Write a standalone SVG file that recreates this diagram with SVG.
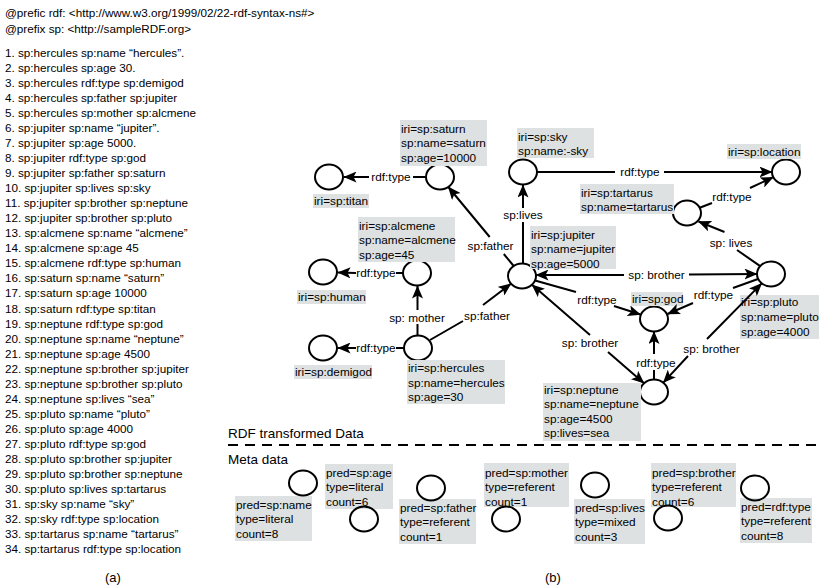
<svg xmlns="http://www.w3.org/2000/svg" width="831" height="587" viewBox="0 0 831 587">
<style>
text { font-family: "Liberation Sans", Arial, sans-serif; fill: #000; }
.src { font-size: 11.7px; }
.lbl { font-size: 11.8px; }
.el { font-size: 11.8px; text-anchor: middle; }
.box { fill: #dde1e1; }
.nd { fill: none; stroke: #000; stroke-width: 2; }
.edge { fill: none; stroke: #000; stroke-width: 2; marker-end: url(#ah); }
.both { marker-start: url(#ah); }
.sec { font-size: 13.5px; }
</style>
<defs>
<marker id="ah" viewBox="0 0 13 11" refX="12.5" refY="5.5" markerWidth="13" markerHeight="11" markerUnits="userSpaceOnUse" orient="auto-start-reverse">
<path d="M0,0 L13,5.5 L0,11 L3,5.5 z" fill="#000"/>
</marker>
</defs>
<rect width="831" height="587" fill="#fff"/>

<g id="source-text" xml:space="preserve">
<text class="src" x="5" y="17">@prefic  rdf:  &lt;http://www.w3.org/1999/02/22-rdf-syntax-ns#&gt;</text>
<text class="src" x="5" y="33">@prefix  sp:  &lt;http://sampleRDF.org&gt;</text>
<text class="src" x="5" y="57">1. sp:hercules sp:name “hercules”.<tspan x="5" dy="15.03">2. sp:hercules sp:age 30.</tspan><tspan x="5" dy="15.03">3. sp:hercules rdf:type sp:demigod</tspan><tspan x="5" dy="15.03">4. sp:hercules sp:father sp:jupiter</tspan><tspan x="5" dy="15.03">5. sp:hercules sp:mother   sp:alcmene</tspan><tspan x="5" dy="15.03">6. sp:jupiter sp:name “jupiter”.</tspan><tspan x="5" dy="15.03">7. sp:jupiter sp:age 5000.</tspan><tspan x="5" dy="15.03">8. sp:jupiter rdf:type sp:god</tspan><tspan x="5" dy="15.03">9. sp:jupiter sp:father sp:saturn</tspan><tspan x="5" dy="15.03">10. sp:jupiter sp:lives sp:sky</tspan><tspan x="5" dy="15.03">11. sp:jupiter sp:brother sp:neptune</tspan><tspan x="5" dy="15.03">12. sp:jupiter sp:brother sp:pluto</tspan><tspan x="5" dy="15.03">13. sp:alcmene sp:name “alcmene”</tspan><tspan x="5" dy="15.03">14. sp:alcmene sp:age 45</tspan><tspan x="5" dy="15.03">15. sp:alcmene rdf:type sp:human</tspan><tspan x="5" dy="15.03">16. sp:saturn sp:name “saturn”</tspan><tspan x="5" dy="15.03">17. sp:saturn sp:age 10000</tspan><tspan x="5" dy="15.03">18. sp:saturn rdf:type sp:titan</tspan><tspan x="5" dy="15.03">19. sp:neptune rdf:type sp:god</tspan><tspan x="5" dy="15.03">20. sp:neptune sp:name “neptune”</tspan><tspan x="5" dy="15.03">21. sp:neptune sp:age 4500</tspan><tspan x="5" dy="15.03">22. sp:neptune sp:brother sp:jupiter</tspan><tspan x="5" dy="15.03">23. sp:neptune sp:brother sp:pluto</tspan><tspan x="5" dy="15.03">24. sp:neptune sp:lives “sea”</tspan><tspan x="5" dy="15.03">25. sp:pluto sp:name “pluto”</tspan><tspan x="5" dy="15.03">26. sp:pluto sp:age 4000</tspan><tspan x="5" dy="15.03">27. sp:pluto rdf:type sp:god</tspan><tspan x="5" dy="15.03">28. sp:pluto sp:brother sp:jupiter</tspan><tspan x="5" dy="15.03">29. sp:pluto sp:brother sp:neptune</tspan><tspan x="5" dy="15.03">30. sp:pluto sp:lives sp:tartarus</tspan><tspan x="5" dy="15.03">31. sp:sky sp:name “sky”</tspan><tspan x="5" dy="15.03">32. sp:sky rdf:type sp:location</tspan><tspan x="5" dy="15.03">33. sp:tartarus sp:name “tartarus”</tspan><tspan x="5" dy="15.03">34. sp:tartarus rdf:type sp:location</tspan></text>
<text class="src" x="105" y="582" style="font-size:13px">(a)</text>
</g>

<g id="nodes">
<g id="n-titan"><ellipse class="nd" cx="329" cy="177" rx="14" ry="12.5"/><rect class="box" x="313" y="194" width="56" height="14"/><text class="lbl" x="314" y="205">iri=sp:titan</text></g>
<g id="n-saturn"><ellipse class="nd" cx="440" cy="177" rx="14" ry="12.5"/><rect class="box" x="400" y="120" width="87" height="46"/><text class="lbl" x="401" y="133">iri=sp:saturn<tspan x="401" dy="14.3">sp:name=saturn</tspan><tspan x="401" dy="14.3">sp:age=10000</tspan></text></g>
<g id="n-sky"><ellipse class="nd" cx="523" cy="172" rx="14" ry="12.5"/><rect class="box" x="517" y="128" width="77" height="30"/><text class="lbl" x="518" y="141">iri=sp:sky<tspan x="518" dy="14.3">sp:name:-sky</tspan></text></g>
<g id="n-location"><ellipse class="nd" cx="786" cy="172" rx="14" ry="12.5"/><rect class="box" x="727" y="144" width="74" height="15"/><text class="lbl" x="728" y="156">iri=sp:location</text></g>
<g id="n-tartarus"><ellipse class="nd" cx="687" cy="213" rx="14" ry="12.5"/><rect class="box" x="580" y="184" width="94" height="30"/><text class="lbl" x="581" y="197">iri=sp:tartarus<tspan x="581" dy="14.3">sp:name=tartarus</tspan></text></g>
<g id="n-human"><ellipse class="nd" cx="323" cy="272" rx="14" ry="12.5"/><rect class="box" x="297" y="290" width="69" height="14"/><text class="lbl" x="298" y="301">iri=sp:human</text></g>
<g id="n-alcmene"><ellipse class="nd" cx="417" cy="273" rx="14" ry="12.5"/><rect class="box" x="358" y="217" width="97" height="45"/><text class="lbl" x="359" y="230">iri=sp:alcmene<tspan x="359" dy="14.3">sp:name=alcmene</tspan><tspan x="359" dy="14.3">sp:age=45</tspan></text></g>
<g id="n-jupiter"><ellipse class="nd" cx="522" cy="276" rx="14" ry="12.5"/><rect class="box" x="530" y="226" width="86" height="43"/><text class="lbl" x="531" y="239">iri=sp:jupiter<tspan x="531" dy="14.3">sp:name=jupiter</tspan><tspan x="531" dy="14.3">sp:age=5000</tspan></text></g>
<g id="n-pluto"><ellipse class="nd" cx="771" cy="274" rx="14" ry="12.5"/><rect class="box" x="740" y="295" width="79" height="44"/><text class="lbl" x="741" y="306">iri=sp:pluto<tspan x="741" dy="14.8">sp:name=pluto</tspan><tspan x="741" dy="14.8">sp:age=4000</tspan></text></g>
<g id="n-god"><ellipse class="nd" cx="654" cy="319" rx="14" ry="12.5"/><rect class="box" x="631" y="292" width="52" height="14"/><text class="lbl" x="632" y="303">iri=sp:god</text></g>
<g id="n-demigod"><ellipse class="nd" cx="323" cy="348" rx="14" ry="12.5"/><rect class="box" x="294" y="365" width="78" height="14"/><text class="lbl" x="295" y="376">iri=sp:demigod</text></g>
<g id="n-hercules"><ellipse class="nd" cx="418" cy="348" rx="14" ry="12.5"/><rect class="box" x="407" y="360" width="98" height="44"/><text class="lbl" x="408" y="372">iri=sp:hercules<tspan x="408" dy="14.5">sp:name=hercules</tspan><tspan x="408" dy="14.5">sp:age=30</tspan></text></g>
<g id="n-neptune"><ellipse class="nd" cx="654" cy="392" rx="14" ry="12.5"/><rect class="box" x="543" y="383" width="98" height="58"/><text class="lbl" x="544" y="394">iri=sp:neptune<tspan x="544" dy="14.4">sp:name=neptune</tspan><tspan x="544" dy="14.4">sp:age=4500</tspan><tspan x="544" dy="14.4">sp:lives=sea</tspan></text></g>
</g>

<g id="connectors">
<path class="edge" d="M425,177 L413,177 M369,177 L344,177"/>
<text class="el" x="391" y="181">rdf:type</text>
<path class="edge" d="M513.7,266 L503.8,254 M489.7,237 L448.3,187"/>
<text class="el" x="490.5" y="250">sp:father</text>
<path class="edge" d="M523,263.5 L523,222 M523,208 L523,185"/>
<text class="el" x="523" y="219">sp:lives</text>
<path class="edge" d="M537,172 L615,172 M664,172 L772,172"/>
<text class="el" x="640" y="176">rdf:type</text>
<path class="edge" d="M699.7,207.8 L712,203 M750,188 L773.3,177.2"/>
<text class="el" x="732" y="201">rdf:type</text>
<path class="edge" d="M760.2,266.1 L737,250 M724.5,232 L698.5,221.5"/>
<text class="el" x="731" y="247">sp: lives</text>
<path class="edge both" d="M536,275 L624,275 M689,274.5 L757,274"/>
<text class="el" x="656.5" y="279">sp: brother</text>
<path class="edge" d="M535,280.5 L576,292 M614,306 L640.5,314.5"/>
<text class="el" x="597" y="304">rdf:type</text>
<path class="edge" d="M758,279 L733,288 M693,303 L667.5,314"/>
<text class="el" x="713.5" y="299">rdf:type</text>
<path class="edge both" d="M532,284.8 L590,335 M608,352 L644,383.2"/>
<text class="el" x="590" y="347">sp: brother</text>
<path class="edge" d="M654,379.5 L654,370 M654,354 L654,331.5"/>
<text class="el" x="656" y="366.5">rdf:type</text>
<path class="edge both" d="M761.7,283.4 L707,339 M688,356 L663.3,382.6"/>
<text class="el" x="711.5" y="353">sp: brother</text>
<path class="edge" d="M403,273 L396,273 M356,273 L338,272.5"/>
<text class="el" x="376" y="277">rdf:type</text>
<path class="edge" d="M417.5,335.5 L417.5,324 M417.5,310 L417.5,286"/>
<text class="el" x="417" y="322">sp: mother</text>
<path class="edge" d="M430,340 L463,321 M483,305 L510.9,283.7"/>
<text class="el" x="487" y="320">sp:father</text>
<path class="edge" d="M404,348 L396,348 M356,348 L338,348"/>
<text class="el" x="376" y="352">rdf:type</text>
</g>

<g id="separator">
<text class="sec" x="228" y="438">RDF transformed Data</text>
<line x1="228" y1="445" x2="822" y2="445" stroke="#000" stroke-width="2" stroke-dasharray="10 7"/>
<text class="sec" x="228" y="464">Meta data</text>
</g>

<g id="meta">
<g id="m-name"><rect class="box" x="235" y="496" width="77" height="45"/><ellipse class="nd" cx="303" cy="483" rx="14" ry="12.5"/><text class="lbl" x="236" y="509">pred=sp:name<tspan x="236" dy="14.3">type=literal</tspan><tspan x="236" dy="14.3">count=8</tspan></text></g>
<g id="m-age"><rect class="box" x="325" y="464" width="68" height="45"/><text class="lbl" x="326" y="477">pred=sp:age<tspan x="326" dy="14.3">type=literal</tspan><tspan x="326" dy="14.3">count=6</tspan></text><ellipse class="nd" cx="364" cy="519" rx="14" ry="12.5"/></g>
<g id="m-father"><rect class="box" x="399" y="499" width="77" height="45"/><ellipse class="nd" cx="431" cy="488" rx="14" ry="12.5"/><text class="lbl" x="400" y="512">pred=sp:father<tspan x="400" dy="14.3">type=referent</tspan><tspan x="400" dy="14.3">count=1</tspan></text></g>
<g id="m-mother"><rect class="box" x="484" y="463" width="85" height="44"/><text class="lbl" x="485" y="477">pred=sp:mother<tspan x="485" dy="14.3">type=referent</tspan><tspan x="485" dy="14.3">count=1</tspan></text><ellipse class="nd" cx="506" cy="519" rx="14" ry="12.5"/></g>
<g id="m-lives"><rect class="box" x="574" y="499" width="71" height="45"/><ellipse class="nd" cx="595" cy="485" rx="14" ry="12.5"/><text class="lbl" x="575" y="512">pred=sp:lives<tspan x="575" dy="14.3">type=mixed</tspan><tspan x="575" dy="14.3">count=3</tspan></text></g>
<g id="m-brother"><rect class="box" x="651" y="463" width="85" height="44"/><text class="lbl" x="652" y="477">pred=sp:brother<tspan x="652" dy="14.3">type=referent</tspan><tspan x="652" dy="14.3">count=6</tspan></text><ellipse class="nd" cx="668" cy="518" rx="14" ry="12.5"/></g>
<g id="m-rdftype"><rect class="box" x="740" y="498" width="72" height="45"/><ellipse class="nd" cx="755" cy="488" rx="14" ry="12.5"/><text class="lbl" x="741" y="511">pred=rdf:type<tspan x="741" dy="14.3">type=referent</tspan><tspan x="741" dy="14.3">count=8</tspan></text></g>
</g>

<text x="545" y="582" style="font-size:13px">(b)</text>
</svg>
